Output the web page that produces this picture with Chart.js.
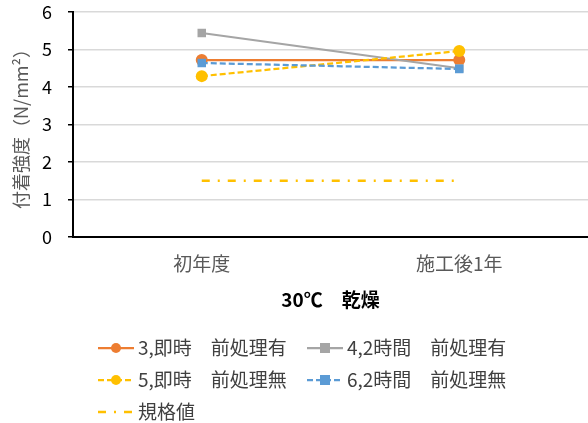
<!DOCTYPE html>
<html>
<head>
<meta charset="utf-8">
<script src="https://cdn.jsdelivr.net/npm/chart.js@4"></script>
<style>
  html, body { margin: 0; padding: 0; background: #fff; }
  #wrap { width: 588px; height: 423px; }
</style>
</head>
<body>
<div id="wrap"><canvas id="chart" width="588" height="423"></canvas></div>
<script>
// Data
const categories = ['初年度', '施工後1年'];
const seriesNames = ['3,即時　前処理有', '4,2時間　前処理有', '5,即時　前処理無', '6,2時間　前処理無', '規格値'];
const s3Values = [4.72, 4.72];
const s4Values = [5.44, 4.50];
const s5Values = [4.29, 4.96];
const s6Values = [4.64, 4.48];
const stdValues = [1.5, 1.5];
const yMin = 0, yMax = 6, yStep = 1;

const FONT = "'Noto Sans CJK JP', 'Noto Sans', sans-serif";

// Legend drawn in canvas, laid out in two columns like the original
const legendPlugin = {
  id: 'gridLegend',
  afterDraw(chart) {
    const ctx = chart.ctx;
    const cols = [98, 307];
    const rows = [348, 380, 412];
    ctx.save();
    chart.data.datasets.forEach((ds, k) => {
      const x = cols[k % 2];
      const y = rows[Math.floor(k / 2)];
      ctx.strokeStyle = ds.borderColor;
      ctx.lineWidth = ds.borderWidth;
      ctx.setLineDash(ds.borderDash || []);
      ctx.beginPath();
      ctx.moveTo(x, y);
      ctx.lineTo(x + 36, y);
      ctx.stroke();
      ctx.setLineDash([]);
      if (ds.pointRadius > 0) {
        ctx.fillStyle = ds.pointBackgroundColor;
        if (ds.pointStyle === 'rect') {
          ctx.fillRect(x + 18 - 5, y - 5, 10, 10);
        } else {
          ctx.beginPath();
          ctx.arc(x + 18, y, 5, 0, Math.PI * 2);
          ctx.fill();
        }
      }
      ctx.fillStyle = '#404040';
      ctx.font = '19px ' + FONT;
      ctx.textBaseline = 'middle';
      ctx.fillText(seriesNames[k], x + 40, y);
    });
    ctx.restore();
  }
};

function lineSet(label, data, color, style, dash, order) {
  return {
    label: label,
    data: data,
    borderColor: color,
    backgroundColor: color,
    pointBackgroundColor: color,
    pointBorderColor: color,
    pointBorderWidth: 0,
    pointStyle: style,
    pointRadius: 6,
    borderWidth: 2.25,
    borderDash: dash,
    order: order,
    tension: 0,
    fill: false
  };
}

const stdSet = lineSet(seriesNames[4], stdValues, '#FFC000', 'circle', [8, 8, 2, 8], 5);
stdSet.pointRadius = 0;
stdSet.borderWidth = 2.5;

new Chart(document.getElementById('chart'), {
  type: 'line',
  data: {
    labels: categories,
    datasets: [
      lineSet(seriesNames[0], s3Values, '#ED7D31', 'circle', [], 4),
      lineSet(seriesNames[1], s4Values, '#A5A5A5', 'rect', [], 3),
      lineSet(seriesNames[2], s5Values, '#FFC000', 'circle', [6, 3], 2),
      lineSet(seriesNames[3], s6Values, '#5B9BD5', 'rect', [6, 3], 1),
      stdSet
    ]
  },
  options: {
    responsive: false,
    animation: false,
    layout: { autoPadding: false, padding: { top: 0, right: 0, left: 0, bottom: 106 } },
    plugins: {
      legend: { display: false },
      tooltip: { enabled: false }
    },
    scales: {
      x: {
        offset: true,
        grid: { display: false, drawTicks: false },
        border: { display: true, color: '#000', width: 2 },
        ticks: { color: '#595959', font: { family: FONT, size: 19 }, padding: 15 },
        title: {
          display: true,
          text: '30℃　乾燥',
          color: '#000',
          font: { family: FONT, size: 19, weight: 'bold' },
          padding: { top: 4, bottom: 6 }
        },
        afterFit(scale) {
          scale.height = 80;
          scale.paddingLeft = 0;
          scale.paddingRight = 0;
        }
      },
      y: {
        min: yMin,
        max: yMax,
        ticks: {
          stepSize: yStep,
          color: '#000',
          font: { family: FONT, size: 18 },
          padding: 16
        },
        grid: { color: '#d9d9d9', lineWidth: 1.5, tickColor: '#000', tickLength: 5 },
        border: { display: true, color: '#000', width: 2 },
        title: {
          display: true,
          text: '付着強度（N/mm²）',
          color: '#595959',
          font: { family: FONT, size: 18 },
          padding: { top: 10, bottom: 4 }
        },
        afterFit(scale) {
          scale.width = 73;
          scale.paddingTop = 12;
          scale.paddingBottom = 0;
        }
      }
    }
  },
  plugins: [legendPlugin]
});
</script>
</body>
</html>
